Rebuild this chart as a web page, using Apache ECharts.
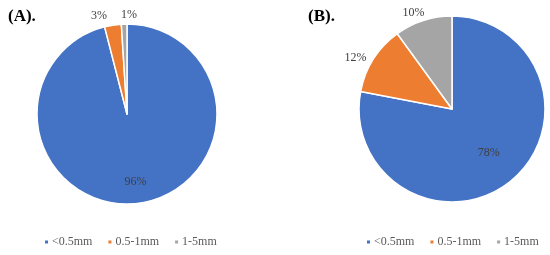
<!DOCTYPE html>
<html>
<head>
<meta charset="utf-8">
<script src="https://cdn.jsdelivr.net/npm/echarts@6/dist/echarts.min.js"></script>
<style>
  html, body { margin: 0; padding: 0; background: #fff; }
  #chart { width: 550px; height: 255px; }
</style>
</head>
<body>
<div id="chart"></div>
<script>
const categories = ['<0.5mm', '0.5-1mm', '1-5mm'];
const valuesA = [96, 3, 1];
const valuesB = [78, 12, 10];
const panelTitles = ['(A).', '(B).'];
const colors = ['#4472C4', '#ED7D31', '#A5A5A5'];

// small nudges so the two thin slices in (A) don't collide, like Excel spreads them
const labelShiftA = [[0, 0], [-5, -3], [13, -3]];
const labelShiftB = [[0, 0], [-2, 2], [3, -2]];

const serif = '"Liberation Serif", "Times New Roman", serif';
const labelColor = '#404040';

let chart = echarts.init(document.getElementById('chart'), null, { renderer: 'canvas' });

// main pie: slice colours + outside labels for the small slices
function mainPie(values, center, radius, shifts) {
	return {
		type: 'pie',
		center: center,
		radius: [0, radius],
		startAngle: 90,
		clockwise: true,
		avoidLabelOverlap: false,
		minShowLabelAngle: 0,
		labelLayout: { hideOverlap: false },
		animation: false,
		itemStyle: { borderColor: '#fff', borderWidth: 1.5 },
		label: {
			show: true,
			position: 'outside',
			formatter: '{c}%',
			fontFamily: serif,
			fontSize: 12,
			color: labelColor,
			distanceToLabelLine: 0
		},
		labelLine: { show: false, length: 6, length2: 0 },
		emphasis: { disabled: true },
		data: values.map((v, i) => ({
			name: categories[i],
			value: v,
			itemStyle: { color: colors[i] },
			label: { show: i > 0, offset: shifts[i] }
		}))
	};
}

// transparent ring on top, only used to place the big slice's label
function labelRing(values, center, inner, outer) {
	return {
		type: 'pie',
		center: center,
		radius: [inner, outer],
		startAngle: 90,
		clockwise: true,
		silent: true,
		animation: false,
		itemStyle: { color: 'rgba(0,0,0,0)' },
		label: {
			show: true,
			position: 'inside',
			formatter: '{c}%',
			fontFamily: serif,
			fontSize: 12,
			color: labelColor
		},
		labelLine: { show: false },
		data: values.map((v, i) => ({
			name: categories[i],
			value: v,
			label: { show: i === 0 }
		}))
	};
}

function legendAt(left) {
	return {
		left: left,
		top: 231,
		orient: 'horizontal',
		icon: 'rect',
		itemWidth: 5,
		itemHeight: 5,
		itemGap: 14,
		selectedMode: false,
		textStyle: { fontFamily: serif, fontSize: 12, color: '#595959', padding: [0, 0, 0, -2] },
		data: categories.map((c, i) => ({ name: c, itemStyle: { color: colors[i] } }))
	};
}

let option = {
	backgroundColor: '#fff',
	title: [
		{ text: panelTitles[0], left: 3, top: 3, textStyle: { fontFamily: serif, fontSize: 17, fontWeight: 'bold', color: '#000' } },
		{ text: panelTitles[1], left: 303, top: 3, textStyle: { fontFamily: serif, fontSize: 17, fontWeight: 'bold', color: '#000' } }
	],
	legend: [legendAt(38), legendAt(360)],
	series: [
		mainPie(valuesA, [127, 114], 90, labelShiftA),
		mainPie(valuesB, [452, 109], 93, labelShiftB),
		labelRing(valuesA, [127, 114], 40, 90),
		labelRing(valuesB, [452, 109], 16, 93)
	]
};
chart.setOption(option);
</script>
</body>
</html>
